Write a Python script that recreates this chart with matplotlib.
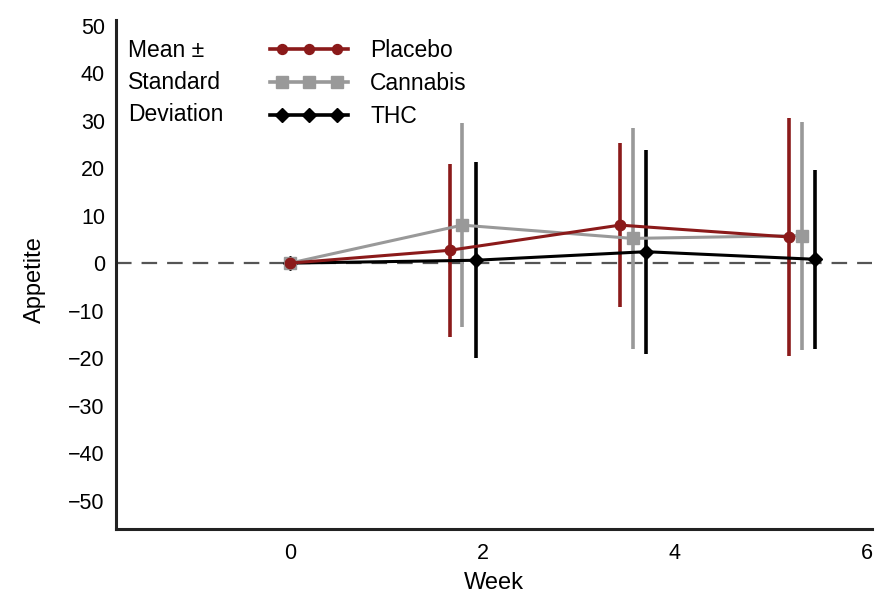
import matplotlib
matplotlib.use("Agg")
import matplotlib.pyplot as plt
from matplotlib.lines import Line2D
from matplotlib.legend_handler import HandlerLine2D, HandlerTuple
import numpy as np

plt.rcParams['font.family'] = ['Liberation Sans', 'DejaVu Sans']

# Plotted week positions (groups are dodged around each visit)
placebo_x = [0.0, 1.66, 3.43, 5.19]
cannabis_x = [0.0, 1.79, 3.56, 5.32]
thc_x = [0.0, 1.93, 3.70, 5.46]

# Mean appetite change and standard deviation
placebo_mean = [0.0, 2.7, 8.0, 5.5]
placebo_sd = [0.0, 18.2, 17.2, 25.0]
cannabis_mean = [0.0, 8.0, 5.2, 5.8]
cannabis_sd = [0.0, 21.5, 23.2, 24.0]
thc_mean = [0.0, 0.6, 2.4, 0.8]
thc_sd = [0.0, 20.6, 21.5, 18.8]

series_labels = ["Placebo", "Cannabis", "THC"]
y_ticks = list(range(-50, 51, 10))
x_ticks = [0, 2, 4, 6]

red = "#8b1a1a"
grey = "#999999"
black = "#000000"

fig = plt.figure(figsize=(8.88, 5.96), dpi=100)
ax = fig.add_axes([116 / 888, 1 - 529 / 596, (872 - 116) / 888, (529 - 20) / 596])

ax.set_xlim(-1.81, 6.05)
ax.set_ylim(-56, 51.2)

# zero reference line
ax.axhline(0, color="#555555", lw=1.6, dashes=(7, 4.5), zorder=1)

specs = [
    (thc_x, thc_mean, thc_sd, black, "D", 7.5, series_labels[2]),
    (cannabis_x, cannabis_mean, cannabis_sd, grey, "s", 8.5, series_labels[1]),
    (placebo_x, placebo_mean, placebo_sd, red, "o", 7.5, series_labels[0]),
]
legend_handles = {}
handler_map = {}
for xs, m, sd, c, mk, ms, lab in specs:
    ax.errorbar(xs[1:], m[1:], yerr=sd[1:], fmt="none", ecolor=c, elinewidth=2.6,
                capsize=0, zorder=2)
    ax.plot(xs, m, color=c, lw=2.2, marker=mk, ms=ms, zorder=3)
    # legend key: a full-width line with three inset markers
    line_part = Line2D([], [], color=c, lw=2.6)
    mark_part = Line2D([], [], color=c, ls="none", marker=mk, ms=ms * 0.95)
    handler_map[line_part] = HandlerLine2D(numpoints=2, marker_pad=0.0)
    handler_map[mark_part] = HandlerLine2D(numpoints=3, marker_pad=0.5)
    legend_handles[lab] = (line_part, mark_part)

handler_map[tuple] = HandlerTuple(ndivide=1)
leg = ax.legend([legend_handles[l] for l in series_labels], series_labels,
                handler_map=handler_map,
                loc="upper left", bbox_to_anchor=(0.177, 1.004), frameon=False,
                handlelength=3.4, handletextpad=0.95,
                labelspacing=0.445, fontsize=16.5)

ax.text(0.016, 0.963, "Mean \u00b1\nStandard\nDeviation", transform=ax.transAxes,
        ha="left", va="top", fontsize=16.5, linespacing=1.5)

ax.set_yticks(y_ticks)
ax.set_yticklabels([("\u2212" + str(-v)) if v < 0 else str(v) for v in y_ticks])
ax.set_xticks(x_ticks)
ax.tick_params(length=0, labelsize=15.5)
ax.tick_params(axis="x", pad=10)
ax.tick_params(axis="y", pad=8)

for s in ["top", "right"]:
    ax.spines[s].set_visible(False)
for s in ["left", "bottom"]:
    ax.spines[s].set_linewidth(2.2)
    ax.spines[s].set_color("#222222")

ax.set_xlabel("Week", fontsize=17, labelpad=6)
ax.set_ylabel("Appetite", fontsize=17)
ax.yaxis.set_label_coords(-0.092, 0.49)

fig.savefig("out.png", dpi=100)
